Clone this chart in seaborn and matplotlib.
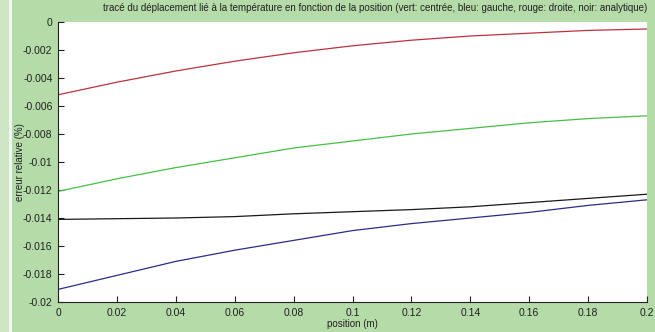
import numpy as np
import pandas as pd
import matplotlib
matplotlib.use('Agg')
import matplotlib.pyplot as plt
import seaborn as sns

# positions (m)
position = [0.0, 0.02, 0.04, 0.06, 0.08, 0.1, 0.12, 0.14, 0.16, 0.18, 0.2]

# relative error per scheme
erreur_droite = [-0.0052, -0.0043, -0.0035, -0.0028, -0.0022, -0.0017, -0.0013, -0.0010, -0.0008, -0.0006, -0.0005]
erreur_centree = [-0.0121, -0.0112, -0.0104, -0.0097, -0.0090, -0.0085, -0.0080, -0.0076, -0.0072, -0.0069, -0.0067]
erreur_analytique = [-0.0141, -0.01405, -0.0140, -0.0139, -0.0137, -0.01355, -0.0134, -0.0132, -0.0129, -0.0126, -0.0123]
erreur_gauche = [-0.0191, -0.0181, -0.0171, -0.0163, -0.0156, -0.0149, -0.0144, -0.0140, -0.0136, -0.0131, -0.0127]

xticks = [0, 0.02, 0.04, 0.06, 0.08, 0.1, 0.12, 0.14, 0.16, 0.18, 0.2]
xtick_labels = ['0', '0.02', '0.04', '0.06', '0.08', '0.1', '0.12', '0.14', '0.16', '0.18', '0.2']
yticks = [0, -0.002, -0.004, -0.006, -0.008, -0.01, -0.012, -0.014, -0.016, -0.018, -0.02]
ytick_labels = ['0', '-0.002', '-0.004', '-0.006', '-0.008', '-0.01', '-0.012', '-0.014', '-0.016', '-0.018', '-0.02']

sns.set_style('ticks')
plt.rcParams['font.family'] = ['Liberation Sans', 'DejaVu Sans']

bg = '#b5dba9'
fig = plt.figure(figsize=(6.55, 3.32), dpi=100, facecolor=bg)

# pale strip on the left edge of the screenshot
fig.patches.append(plt.Rectangle((0, 0), 9 / 655, 1, transform=fig.transFigure,
                                 facecolor='#cfe6c6', edgecolor='none', zorder=0))
fig.patches.append(plt.Rectangle((9 / 655, 0), 3 / 655, 1, transform=fig.transFigure,
                                 facecolor='#f4f8f2', edgecolor='none', zorder=0))

ax = fig.add_axes([58 / 655, 30 / 332, 589 / 655, 280 / 332])
ax.set_facecolor('white')

df = pd.DataFrame({
    'position': position * 4,
    'erreur': erreur_droite + erreur_centree + erreur_analytique + erreur_gauche,
    'schema': ['droite'] * 11 + ['centree'] * 11 + ['analytique'] * 11 + ['gauche'] * 11,
})
palette = {'droite': '#c0303c', 'centree': '#45c045', 'analytique': '#1a1a1a', 'gauche': '#2c2c88'}
sns.lineplot(data=df, x='position', y='erreur', hue='schema', palette=palette,
             linewidth=0.9, legend=False, ax=ax)

ax.set_xlim(0, 0.2)
ax.set_ylim(-0.02, 0)
ax.set_xticks(xticks)
ax.set_xticklabels(xtick_labels)
ax.set_yticks(yticks)
ax.set_yticklabels(ytick_labels)
ax.tick_params(direction='in', length=4, width=0.8, labelsize=7.5, colors='#222222', pad=4)

for side in ['top', 'right']:
    ax.spines[side].set_visible(False)
for side in ['left', 'bottom']:
    ax.spines[side].set_linewidth(0.8)
    ax.spines[side].set_color('#222222')

ax.set_xlabel('position (m)', fontsize=7, labelpad=1, color='#222222')
ax.set_ylabel('erreur relative (%)', fontsize=7, color='#222222', va='center')
ax.yaxis.set_label_coords(-38 / 589, 0.5)

fig.text(647 / 655, 1 - 8 / 332,
         'tracé du déplacement lié à la température en fonction de la position '
         '(vert: centrée, bleu: gauche, rouge: droite, noir: analytique)',
         ha='right', va='center', fontsize=7, color='#222222')

fig.savefig('out.png', dpi=100, facecolor=bg)
